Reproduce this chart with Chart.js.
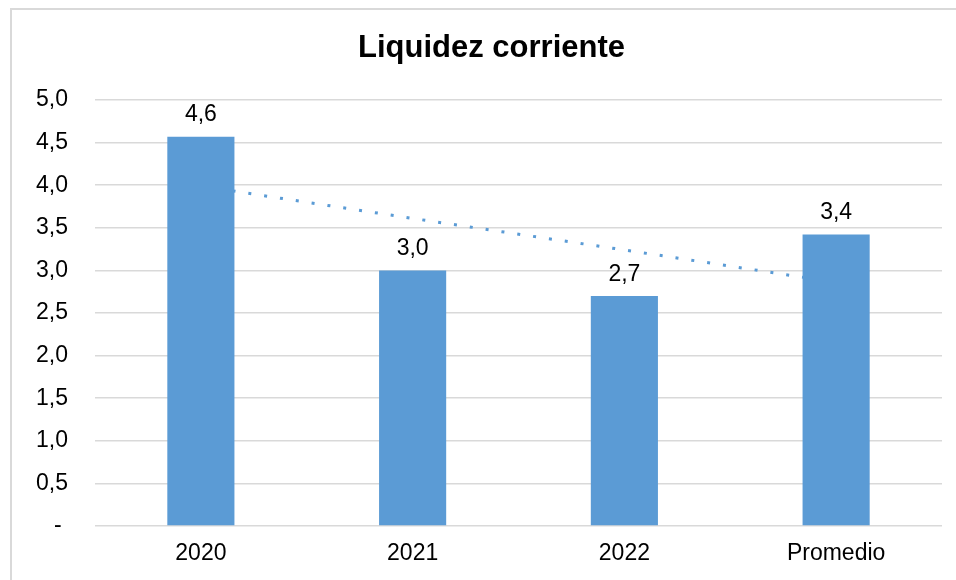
<!DOCTYPE html>
<html>
<head>
<meta charset="utf-8">
<script src="https://cdn.jsdelivr.net/npm/chart.js@4"></script>
<style>
  html, body { margin: 0; padding: 0; background: #fff; overflow: hidden; }
  #frame { position: absolute; left: 10px; top: 8px; width: 960px; height: 600px; border: 2px solid #d9d9d9; }
  #wrap { position: absolute; left: 0; top: 0; width: 956px; height: 580px; }
</style>
</head>
<body>
<div id="frame"></div>
<div id="wrap"><canvas id="liquidezChart"></canvas></div>
<script>
// Datos
var categorias = ['2020', '2021', '2022', 'Promedio'];
var liquidez = [4.57, 3.0, 2.7, 3.42];
var tendencia = [3.99, 3.61, 3.24, 2.86]; // línea de tendencia
var titulo = 'Liquidez corriente';

var fuente = '"Liberation Sans", Arial, sans-serif';
var azul = '#5B9BD5';

function formato(v) {
    return v.toFixed(1).replace('.', ',');
}

// Título y etiquetas de valor encima de las barras
var etiquetas = {
    id: 'etiquetas',
    afterDatasetsDraw: function (chart) {
        var ctx = chart.ctx;
        var area = chart.chartArea;
        var meta = chart.getDatasetMeta(0);
        ctx.save();
        ctx.fillStyle = '#000';
        ctx.textAlign = 'center';

        // título centrado sobre el marco del gráfico
        ctx.font = 'bold 31px ' + fuente;
        ctx.textBaseline = 'middle';
        ctx.fillText(titulo, (area.left + area.right) / 2 - 27, area.top - 52);

        ctx.font = '23px ' + fuente;
        ctx.textBaseline = 'bottom';
        meta.data.forEach(function (bar, i) {
            ctx.fillText(formato(liquidez[i]), bar.x, bar.y - 10);
        });
        ctx.restore();
    }
};

var ctx = document.getElementById('liquidezChart').getContext('2d');
var chart = new Chart(ctx, {
    type: 'bar',
    data: {
        labels: categorias,
        datasets: [{
            type: 'bar',
            data: liquidez,
            backgroundColor: azul,
            categoryPercentage: 1,
            barPercentage: 0.317,
            order: 0
        }, {
            type: 'line',
            data: tendencia,
            borderColor: azul,
            borderWidth: 3,
            borderDash: [3, 13],
            borderCapStyle: 'butt',
            pointRadius: 0,
            fill: false,
            order: 1
        }]
    },
    options: {
        responsive: true,
        maintainAspectRatio: false,
        animation: false,
        layout: { padding: { top: 100, right: 14, bottom: 12, left: 0 } },
        plugins: {
            legend: { display: false },
            tooltip: { enabled: false },
            title: { display: false }
        },
        scales: {
            x: {
                afterFit: function (scale) { scale.height = 42; },
                grid: { display: false, drawTicks: false },
                border: { display: false },
                ticks: { color: '#000', font: { family: fuente, size: 23 }, padding: 14 }
            },
            y: {
                min: 0,
                max: 5,
                afterFit: function (scale) { scale.width = 95; },
                grid: { color: '#d9d9d9', lineWidth: 1.5, drawTicks: false },
                border: { display: false },
                ticks: {
                    stepSize: 0.5,
                    color: '#000',
                    padding: 27,
                    font: { family: fuente, size: 23 },
                    callback: function (v) { return v === 0 ? '- ' : formato(v); }
                }
            }
        }
    },
    plugins: [etiquetas]
});
</script>
</body>
</html>
